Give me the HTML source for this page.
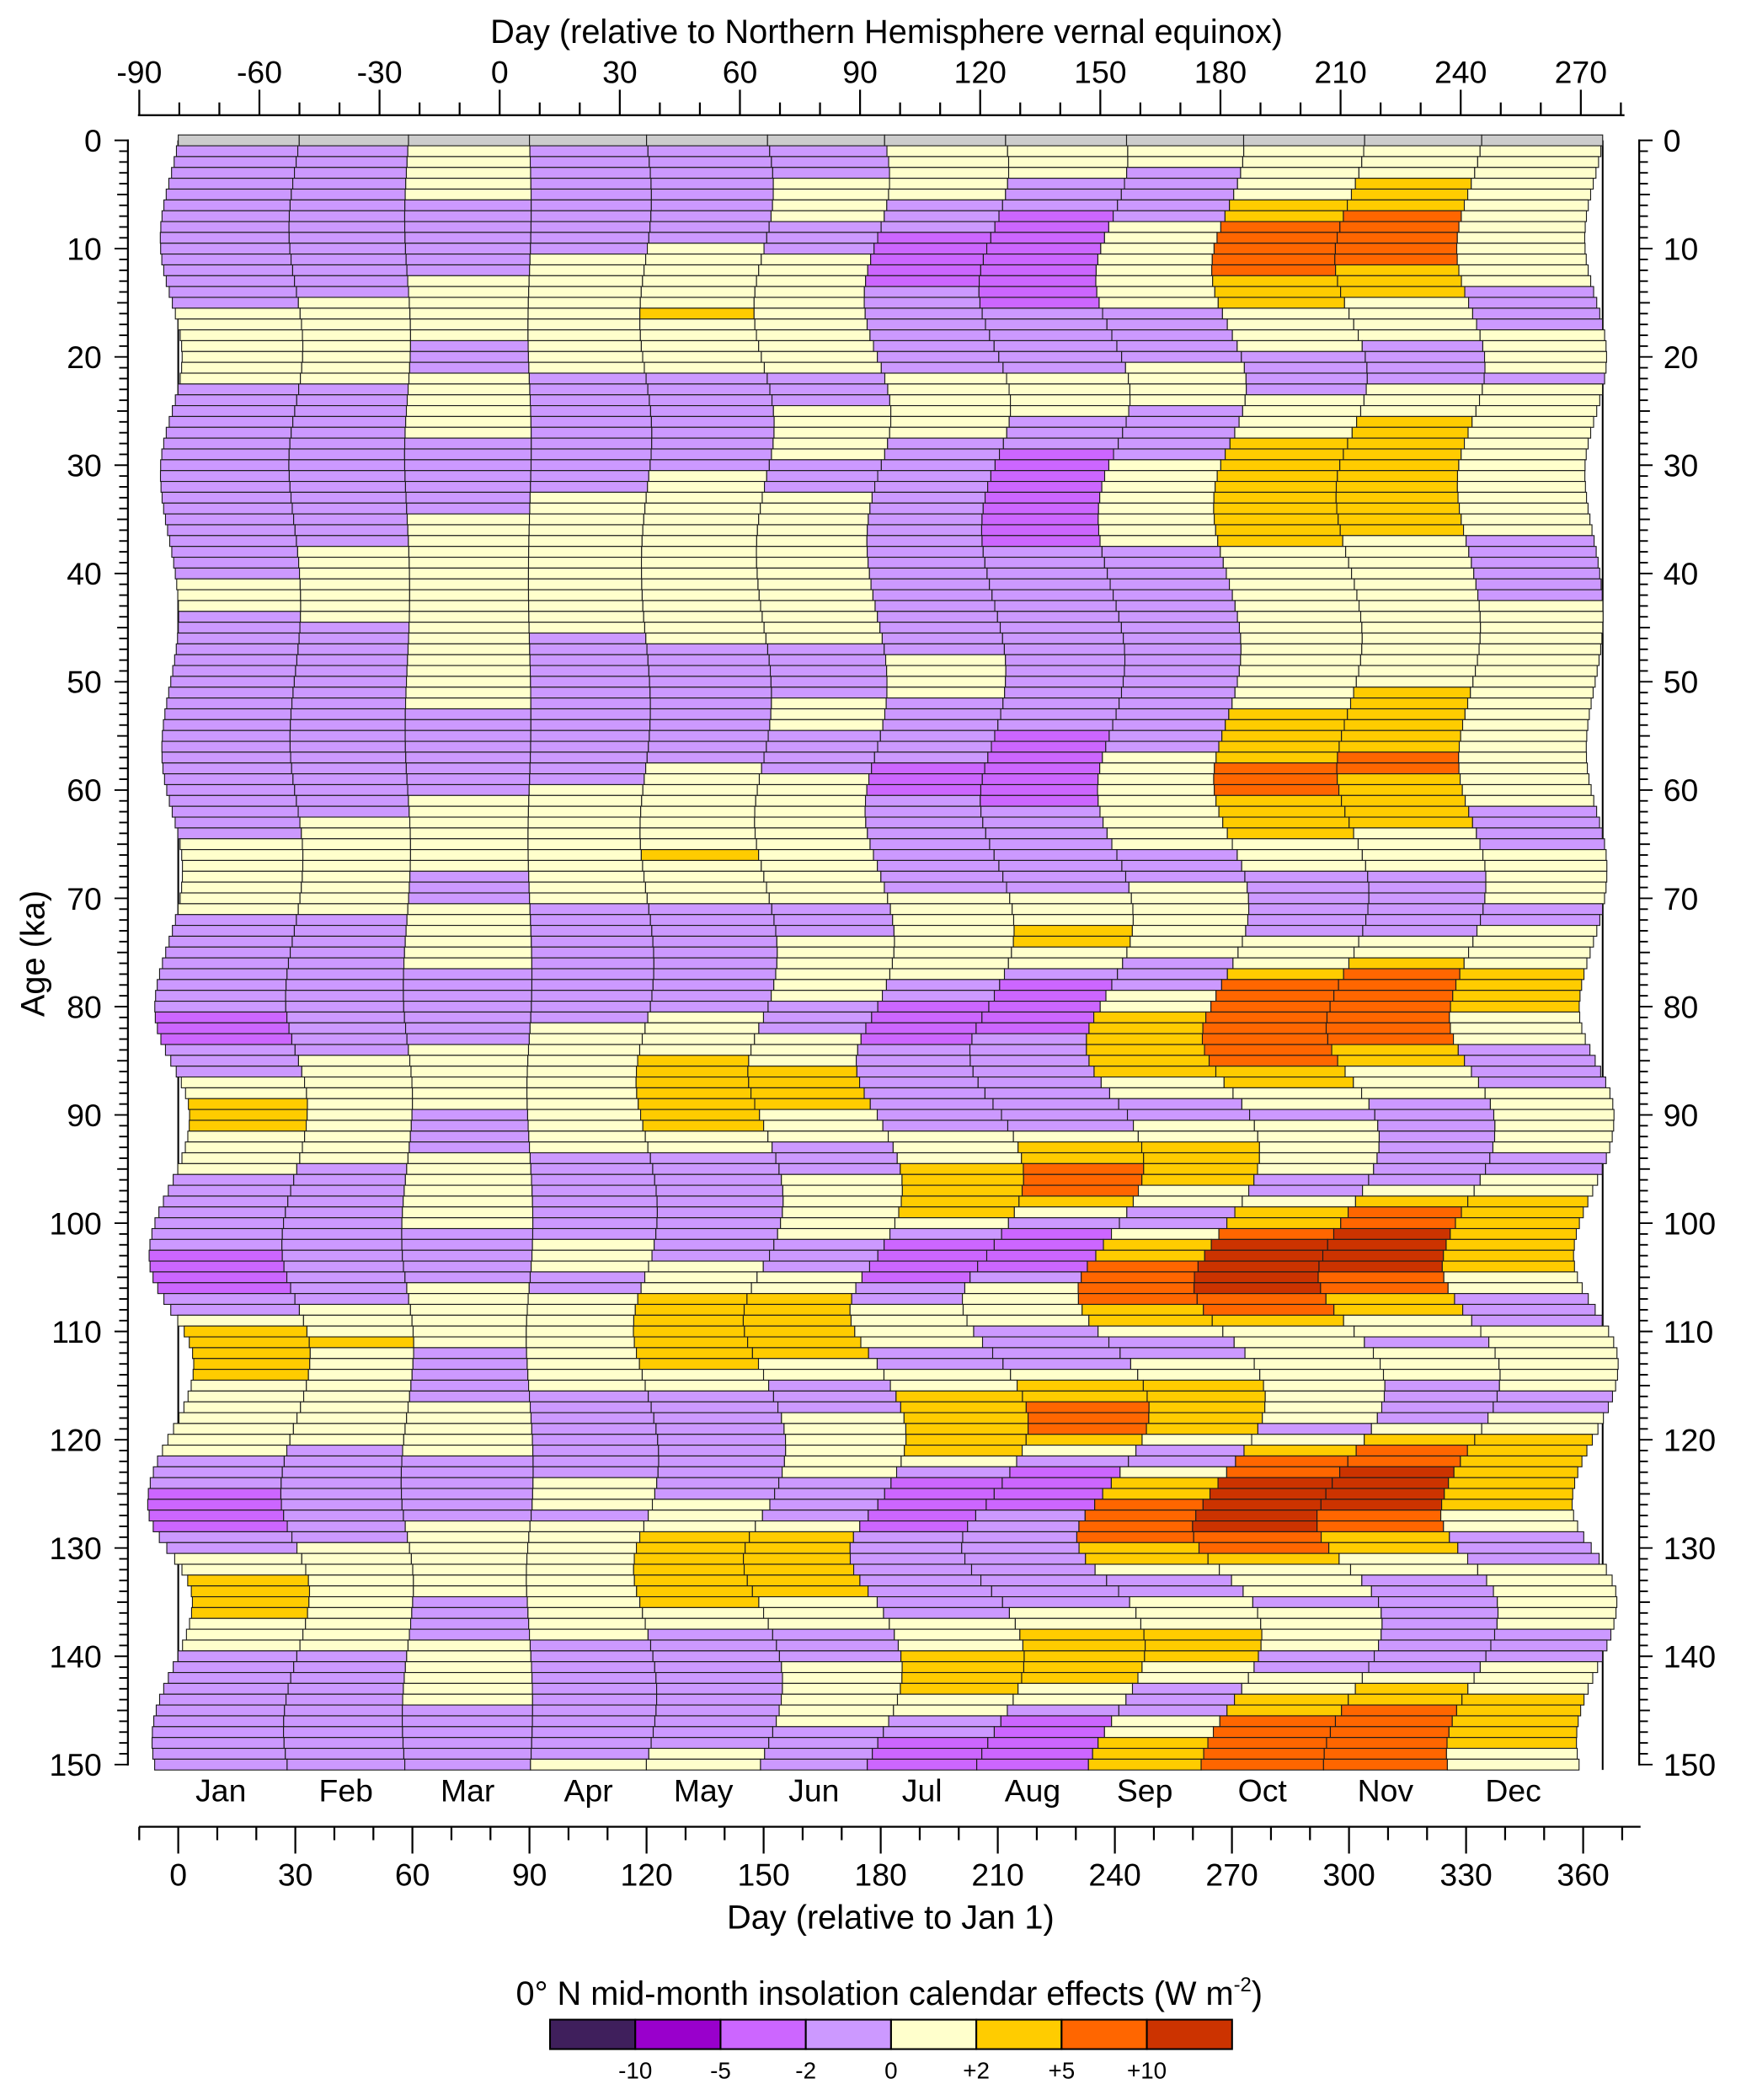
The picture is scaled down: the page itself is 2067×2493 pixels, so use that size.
<!DOCTYPE html>
<html><head><meta charset="utf-8">
<style>
html,body{margin:0;padding:0;background:#fff;}
svg{display:block;}
text{font-family:"Liberation Sans",Arial,sans-serif;fill:#000;}
</style></head>
<body>
<svg id="chart" xmlns="http://www.w3.org/2000/svg" width="2067" height="2493" viewBox="0 0 1300 1568" preserveAspectRatio="none">
  <g id="bg"></g>
  <g id="bars"></g>
  <g id="axes"></g>
  <text x="662" y="32" font-size="25" text-anchor="middle">Day (relative to Northern Hemisphere vernal equinox)</text>
  <text x="665" y="1440" font-size="25" text-anchor="middle">Day (relative to Jan 1)</text>
  <text x="0" y="0" font-size="25" text-anchor="middle" transform="translate(33,712) rotate(-90)">Age (ka)</text>
  <text x="664" y="1497" font-size="25" text-anchor="middle">0° N mid-month insolation calendar effects (W m<tspan font-size="15" dy="-10">-2</tspan><tspan dy="10">)</tspan></text>
  <g id="legend"></g>
</svg>
<script>
// ---- data ----
const monthNames = ["Jan","Feb","Mar","Apr","May","Jun","Jul","Aug","Sep","Oct","Nov","Dec"];
const monthStartDays = [0,31,59,90,120,151,181,212,243,273,304,334,365];
const ageMin = 0;
const ageMax = 150;
const classColors = ["#3f1f5c","#9900cc","#cc66ff","#cc99ff","#ffffcc","#ffcc00","#ff6600","#cc3300","#cccccc"];
const legendLabels = ["-10","-5","-2","0","+2","+5","+10"];
const bottomTickLabels = [0,30,60,90,120,150,180,210,240,270,300,330,360];
const topTickLabels = [-90,-60,-30,0,30,60,90,120,150,180,210,240,270];
const ageTickLabels = [0,10,20,30,40,50,60,70,80,90,100,110,120,130,140,150];
const eccAges = [0,10,20,30,40,50,60,70,80,90,100,110,120,130,140,150];
const eccValues = [0.0167,0.0185,0.020,0.0185,0.014,0.0135,0.017,0.022,0.028,0.033,0.037,0.040,0.041,0.040,0.036,0.032];
const precAnchorAges = [0,9,20,31,44,56,67,80,90,103,113,126,135,148,150];
const precAnchorPhase = [322,180,0,-180,-360,-540,-720,-900,-1080,-1260,-1440,-1620,-1800,-1980,-2008];
// runs: [last age of run, class]
const janRuns = [[0,8],[15,3],[22,4],[40,3],[43,4],[64,3],[71,4],[80,3],[83,2],[86,3],[88,4],[91,5],[95,4],[102,3],[106,2],[108,3],[109,4],[114,5],[121,4],[124,3],[128,2],[130,3],[132,4],[136,5],[139,4],[150,3]];
const febRuns = [[0,8],[14,3],[22,4],[37,3],[44,4],[62,3],[71,4],[84,3],[94,4],[107,3],[110,4],[111,5],[120,4],[129,3],[139,4],[150,3]];
const marRuns = [[0,8],[5,4],[12,3],[18,4],[21,3],[27,4],[34,3],[52,4],[60,3],[67,4],[70,3],[76,4],[83,3],[89,4],[93,3],[100,4],[105,3],[111,4],[116,3],[121,4],[127,3],[134,4],[138,3],[144,4],[150,3]];
const aprRuns = [[0,8],[10,3],[21,4],[32,3],[45,4],[59,3],[70,4],[81,3],[93,4],[101,3],[104,4],[106,3],[115,4],[123,3],[126,4],[127,3],[138,4],[149,3],[150,4]];
const mayRuns = [[0,8],[9,3],[15,4],[16,5],[21,4],[30,3],[46,4],[57,3],[65,4],[66,5],[70,4],[80,3],[84,4],[91,5],[93,4],[103,3],[106,4],[113,5],[115,4],[125,3],[128,4],[135,5],[137,4],[148,3],[150,4]];
const junRuns = [[0,8],[3,3],[7,4],[10,3],[21,4],[24,3],[29,4],[32,3],[46,4],[51,3],[54,4],[58,3],[70,4],[73,3],[79,4],[82,3],[85,4],[89,5],[92,4],[95,3],[101,4],[104,3],[106,4],[112,5],[114,4],[117,3],[123,4],[127,3],[128,4],[134,5],[137,4],[140,3],[146,4],[150,3]];
const julRuns = [[0,8],[5,4],[8,3],[13,2],[21,3],[27,4],[47,3],[51,4],[57,3],[60,2],[69,3],[77,4],[79,3],[83,2],[91,3],[94,4],[99,5],[100,4],[101,3],[105,2],[107,3],[111,4],[113,3],[115,4],[121,5],[122,4],[123,3],[128,2],[136,3],[139,4],[143,5],[145,4],[147,3],[150,2]];
const augRuns = [[0,8],[3,4],[6,3],[15,2],[21,3],[25,4],[28,3],[37,2],[54,3],[61,2],[69,3],[72,4],[74,5],[76,4],[77,3],[82,2],[91,3],[92,4],[94,5],[97,6],[98,5],[99,4],[100,3],[104,2],[105,3],[109,4],[113,3],[114,4],[116,5],[119,6],[120,5],[121,4],[122,3],[126,2],[135,3],[137,4],[142,5],[144,4],[145,3],[150,2]];
const sepRuns = [[0,8],[2,4],[7,3],[15,4],[20,3],[24,4],[29,3],[37,4],[56,3],[65,4],[68,3],[75,4],[78,3],[80,4],[86,5],[88,4],[90,3],[92,4],[96,5],[98,4],[100,3],[101,4],[103,5],[107,6],[109,5],[110,4],[112,3],[114,4],[119,5],[120,4],[122,3],[123,4],[125,5],[129,6],[131,5],[132,4],[134,3],[137,4],[140,5],[142,4],[145,3],[147,4],[150,5]];
const octRuns = [[0,8],[5,4],[7,5],[12,6],[15,5],[19,4],[23,3],[27,4],[37,5],[52,4],[57,5],[60,6],[64,5],[67,4],[73,3],[76,4],[77,5],[85,6],[87,5],[89,4],[90,3],[95,4],[97,3],[98,4],[100,5],[101,6],[106,7],[108,6],[109,5],[118,4],[119,3],[120,4],[121,5],[123,6],[128,7],[130,6],[131,5],[134,4],[135,3],[139,4],[141,3],[143,4],[145,5],[150,6]];
const novRuns = [[0,8],[3,4],[6,5],[11,6],[14,5],[18,4],[22,3],[25,4],[36,5],[50,4],[56,5],[58,6],[63,5],[67,4],[73,3],[75,4],[76,5],[83,6],[85,5],[88,4],[96,3],[97,4],[98,5],[100,6],[104,7],[106,6],[108,5],[110,4],[111,3],[114,4],[118,3],[119,4],[120,5],[122,6],[126,7],[128,6],[130,5],[132,4],[141,3],[142,4],[144,5],[150,6]];
const decRuns = [[0,8],[13,4],[17,3],[21,4],[22,3],[36,4],[42,3],[61,4],[65,3],[70,4],[72,3],[76,4],[80,5],[83,4],[87,3],[93,4],[95,3],[97,4],[104,5],[106,4],[109,3],[115,4],[117,3],[119,4],[126,5],[128,4],[131,3],[137,4],[140,3],[143,4],[148,5],[150,4]];
const monthRuns = [janRuns,febRuns,marRuns,aprRuns,mayRuns,junRuns,julRuns,augRuns,sepRuns,octRuns,novRuns,decRuns];

// ---- scales ----
const NS = "http://www.w3.org/2000/svg";
function xDay(d){ return 133.1 + d*2.914; }
function xTop(e){ return 104 + (e+90)*2.99; }
function yAge(a){ return 104.8 + a*8.085; }
const rowH = 8.085;
function interp(xs, ys, x){
  if (x <= xs[0]) return ys[0];
  for (let i=1;i<xs.length;i++){ if (x <= xs[i]){ const t=(x-xs[i-1])/(xs[i]-xs[i-1]); return ys[i-1]+t*(ys[i]-ys[i-1]); } }
  return ys[ys.length-1];
}
const RAD = Math.PI/180;
function shiftDays(d, age){
  const e = interp(eccAges, eccValues, age);
  const w = (interp(precAnchorAges, precAnchorPhase, age) - 39)*RAD;
  const e0 = eccValues[0], w0 = (precAnchorPhase[0]-39)*RAD;
  const p = e*Math.sin(w), q = e*Math.cos(w);
  const p0 = e0*Math.sin(w0), q0 = e0*Math.cos(w0);
  const lam = 2*Math.PI*(d-79)/365;
  return (365/Math.PI)*(-(q-q0)*Math.sin(lam) + (p-p0)*(Math.cos(lam)-1));
}
function classAt(runs, age){ for (const r of runs){ if (age <= r[0]) return r[1]; } return runs[runs.length-1][1]; }
function mk(tag, attrs, parent){ const el=document.createElementNS(NS, tag); for (const k in attrs) el.setAttribute(k, attrs[k]); parent.appendChild(el); return el; }

// ---- reference lines ----
const bg = document.getElementById('bg');
[0,365].forEach(d=>{
  const ln = mk('line',{x1:xDay(d),x2:xDay(d),y1:yAge(0),y2:yAge(150)+4,stroke:'#000','stroke-width':1.3},bg);
  
  
});

// ---- bars ----
const bars = document.getElementById('bars');
for (let a=ageMin; a<=ageMax; a++){
  const g = mk('g',{},bars);
  
  
  for (let m=0; m<12; m++){
    const d0 = monthStartDays[m], d1 = monthStartDays[m+1];
    const x0 = xDay(d0 + shiftDays(d0, a)), x1 = xDay(d1 + shiftDays(d1, a));
    const c = classAt(monthRuns[m], a);
    const r = mk('rect',{x:x0.toFixed(2), y:(yAge(a)-rowH/2).toFixed(2), width:(x1-x0).toFixed(2), height:rowH.toFixed(2), fill:classColors[c], stroke:'#1a1a1a','stroke-width':0.7},g);
    
    
  }
}

// ---- axes ----
const ax = document.getElementById('axes');
const sw = 1.4;
// bottom axis
let el = mk('line',{x1:103.8,x2:1225,y1:1364,y2:1364,stroke:'#000','stroke-width':sw},ax);


for (let d=-10; d<=370; d+=10){
  const major = bottomTickLabels.indexOf(d) >= 0;
  const t = mk('line',{x1:xDay(d),x2:xDay(d),y1:1364,y2:major?1384:1374,stroke:'#000','stroke-width':sw},ax);
  
  
}
bottomTickLabels.forEach(v=>{
  const t = mk('text',{x:xDay(v),y:1408,'font-size':23.5,'text-anchor':'middle'},ax);
  t.textContent = v;
  
  
});
// top axis
el = mk('line',{x1:103,x2:1213,y1:86,y2:86,stroke:'#000','stroke-width':sw},ax);


for (let e=-90; e<=280; e+=10){
  const major = topTickLabels.indexOf(e) >= 0;
  const t = mk('line',{x1:xTop(e),x2:xTop(e),y1:86,y2:major?67:76.5,stroke:'#000','stroke-width':sw},ax);
  
  
}
topTickLabels.forEach(v=>{
  const t = mk('text',{x:xTop(v),y:62,'font-size':23.5,'text-anchor':'middle'},ax);
  t.textContent = v;
  
  
});
// left & right age axes
[[95.5,-1],[1224,1]].forEach(([xa,dir])=>{
  const l = mk('line',{x1:xa,x2:xa,y1:yAge(0)-0.7,y2:yAge(150)+0.7,stroke:'#000','stroke-width':sw},ax);
  
  
  for (let a=0; a<=150; a++){
    const len = (a%10===0) ? 10 : (a%5===0 ? 8 : 6.5);
    const t = mk('line',{x1:xa,x2:xa+dir*len,y1:yAge(a),y2:yAge(a),stroke:'#000','stroke-width':1.2},ax);
    
    
  }
  ageTickLabels.forEach(v=>{
    const t = mk('text',{x: dir<0 ? 76 : 1242, y:yAge(v)+8.4,'font-size':23.5,'text-anchor': dir<0 ? 'end':'start'},ax);
    t.textContent = v;
    
    
  });
});
// month labels (centred on bottom row)
monthNames.forEach((n,m)=>{
  const d0 = monthStartDays[m], d1 = monthStartDays[m+1];
  const xc = (xDay(d0+shiftDays(d0,ageMax)) + xDay(d1+shiftDays(d1,ageMax)))/2;
  const t = mk('text',{x:xc,y:1345,'font-size':23.5,'text-anchor':'middle'},ax);
  t.textContent = n;
  
  
});

// ---- legend ----
const lg = document.getElementById('legend');
const lx0 = 410.7, lw = (920-410.7)/8;
for (let i=0;i<8;i++){
  const r = mk('rect',{x:lx0+i*lw,y:1508,width:lw,height:22,fill:classColors[i],stroke:'#000','stroke-width':1.3},lg);
  
  
}
legendLabels.forEach((s,i)=>{
  const t = mk('text',{x:lx0+(i+1)*lw,y:1552,'font-size':17.5,'text-anchor':'middle'},lg);
  t.textContent = s;
  
  
});
</script>
</body></html>
